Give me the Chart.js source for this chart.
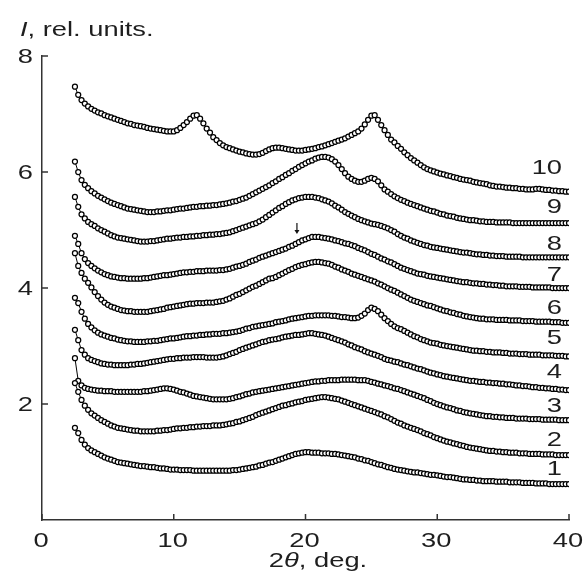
<!DOCTYPE html>
<html>
<head>
<meta charset="utf-8">
<script src="https://cdn.jsdelivr.net/npm/chart.js@4.4.1/dist/chart.umd.min.js"></script>
<style>
  html, body { margin: 0; padding: 0; background: #fff; }
</style>
</head>
<body>
<canvas id="myChart" width="585" height="574"></canvas>
<script>
// 2theta sampling, deg.
const angles = [
  2.5,2.75,3,3.25,3.5,3.75,4,4.25,4.5,4.75,5,5.25,5.5,5.75,6,6.25,6.5,6.75,7,7.25,
  7.5,7.75,8,8.25,8.5,8.75,9,9.25,9.5,9.75,10,10.25,10.5,10.75,11,11.25,11.5,11.75,12,12.25,
  12.5,12.75,13,13.25,13.5,13.75,14,14.25,14.5,14.75,15,15.25,15.5,15.75,16,16.25,16.5,16.75,17,17.25,
  17.5,17.75,18,18.25,18.5,18.75,19,19.25,19.5,19.75,20,20.25,20.5,20.75,21,21.25,21.5,21.75,22,22.25,
  22.5,22.75,23,23.25,23.5,23.75,24,24.25,24.5,24.75,25,25.25,25.5,25.75,26,26.25,26.5,26.75,27,27.25,
  27.5,27.75,28,28.25,28.5,28.75,29,29.25,29.5,29.75,30,30.25,30.5,30.75,31,31.25,31.5,31.75,32,32.25,
  32.5,32.75,33,33.25,33.5,33.75,34,34.25,34.5,34.75,35,35.25,35.5,35.75,36,36.25,36.5,36.75,37,37.25,
  37.5,37.75,38,38.25,38.5,38.75,39,39.25,39.5,39.75,40
];

// intensity, rel. units (curves are shifted vertically as in the figure)
const curve1 = [
  1.59,1.50,1.38,1.30,1.24,1.20,1.17,1.14,1.11,1.08,1.06,1.04,1.02,1.00,0.99,0.98,0.97,0.96,0.95,0.94,
  0.93,0.93,0.92,0.91,0.91,0.90,0.89,0.89,0.88,0.87,0.87,0.87,0.86,0.86,0.86,0.86,0.85,0.85,0.85,0.85,
  0.85,0.85,0.85,0.85,0.85,0.85,0.85,0.85,0.86,0.86,0.87,0.88,0.89,0.90,0.91,0.92,0.94,0.95,0.97,0.99,
  1.00,1.02,1.04,1.06,1.08,1.10,1.12,1.14,1.15,1.16,1.17,1.17,1.16,1.16,1.16,1.15,1.15,1.15,1.14,1.14,
  1.13,1.12,1.11,1.10,1.09,1.08,1.06,1.05,1.03,1.02,1.00,0.98,0.96,0.95,0.93,0.91,0.90,0.88,0.87,0.86,
  0.85,0.84,0.83,0.82,0.82,0.81,0.80,0.79,0.78,0.78,0.77,0.76,0.75,0.74,0.74,0.73,0.72,0.71,0.70,0.70,
  0.69,0.69,0.68,0.68,0.67,0.67,0.67,0.67,0.66,0.66,0.66,0.66,0.65,0.65,0.65,0.65,0.64,0.64,0.64,0.64,
  0.63,0.63,0.63,0.63,0.62,0.62,0.62,0.62,0.62,0.62,0.62
];
const curve2 = [
  2.36,2.21,2.07,1.97,1.90,1.84,1.80,1.76,1.72,1.69,1.66,1.63,1.61,1.59,1.58,1.57,1.56,1.55,1.54,1.54,
  1.53,1.53,1.53,1.53,1.53,1.54,1.54,1.55,1.55,1.56,1.57,1.58,1.58,1.59,1.59,1.60,1.60,1.61,1.61,1.62,
  1.62,1.62,1.63,1.63,1.63,1.64,1.65,1.66,1.67,1.69,1.70,1.72,1.74,1.76,1.78,1.81,1.83,1.85,1.87,1.89,
  1.91,1.93,1.95,1.97,1.98,2.00,2.01,2.03,2.04,2.05,2.07,2.08,2.09,2.10,2.11,2.12,2.12,2.11,2.10,2.09,
  2.08,2.06,2.04,2.02,2.00,1.98,1.96,1.94,1.92,1.90,1.88,1.86,1.84,1.82,1.79,1.77,1.74,1.71,1.68,1.66,
  1.63,1.61,1.59,1.57,1.55,1.53,1.50,1.48,1.46,1.43,1.41,1.39,1.37,1.35,1.34,1.32,1.31,1.29,1.28,1.26,
  1.25,1.24,1.23,1.22,1.21,1.20,1.19,1.19,1.18,1.18,1.17,1.17,1.16,1.16,1.16,1.15,1.15,1.15,1.14,1.14,
  1.14,1.14,1.13,1.13,1.13,1.13,1.12,1.12,1.12,1.12,1.12
];
const curve3 = [
  2.79,2.40,2.32,2.28,2.26,2.25,2.24,2.23,2.23,2.22,2.22,2.22,2.21,2.21,2.21,2.21,2.21,2.21,2.21,2.21,
  2.21,2.22,2.22,2.23,2.24,2.25,2.26,2.27,2.27,2.26,2.25,2.23,2.21,2.20,2.18,2.16,2.14,2.13,2.12,2.11,
  2.10,2.09,2.08,2.08,2.08,2.08,2.08,2.09,2.10,2.12,2.13,2.15,2.17,2.18,2.20,2.21,2.22,2.23,2.24,2.25,
  2.26,2.27,2.28,2.29,2.30,2.31,2.32,2.33,2.34,2.35,2.36,2.37,2.38,2.39,2.39,2.40,2.40,2.41,2.41,2.41,
  2.41,2.42,2.42,2.42,2.42,2.42,2.41,2.41,2.41,2.40,2.38,2.37,2.35,2.34,2.32,2.31,2.29,2.27,2.26,2.24,
  2.22,2.20,2.18,2.16,2.14,2.12,2.10,2.07,2.05,2.02,2.00,1.98,1.96,1.94,1.93,1.91,1.89,1.88,1.86,1.85,
  1.84,1.83,1.82,1.81,1.80,1.79,1.79,1.78,1.78,1.77,1.77,1.76,1.76,1.76,1.75,1.75,1.75,1.75,1.74,1.74,
  1.74,1.74,1.73,1.73,1.73,1.73,1.73,1.72,1.72,1.72,1.72
];
const curve4 = [
  3.28,3.10,2.93,2.85,2.79,2.76,2.74,2.72,2.70,2.69,2.68,2.68,2.67,2.67,2.67,2.67,2.67,2.68,2.68,2.69,
  2.69,2.70,2.71,2.72,2.73,2.74,2.75,2.76,2.77,2.78,2.78,2.79,2.79,2.80,2.80,2.80,2.81,2.81,2.81,2.81,
  2.80,2.80,2.80,2.80,2.81,2.82,2.84,2.86,2.88,2.90,2.93,2.95,2.97,2.99,3.01,3.03,3.05,3.07,3.08,3.10,
  3.11,3.12,3.13,3.15,3.16,3.17,3.18,3.19,3.19,3.20,3.21,3.22,3.22,3.21,3.20,3.19,3.18,3.16,3.14,3.12,
  3.10,3.08,3.06,3.03,3.01,2.98,2.96,2.94,2.91,2.89,2.87,2.85,2.83,2.81,2.78,2.76,2.75,2.73,2.72,2.70,
  2.68,2.67,2.65,2.63,2.61,2.60,2.58,2.56,2.54,2.53,2.51,2.50,2.48,2.47,2.46,2.45,2.44,2.43,2.42,2.41,
  2.40,2.40,2.39,2.38,2.38,2.37,2.37,2.36,2.36,2.35,2.35,2.34,2.34,2.33,2.32,2.32,2.31,2.31,2.30,2.29,
  2.29,2.28,2.28,2.27,2.27,2.26,2.26,2.25,2.25,2.24,2.24
];
const curve5 = [
  3.83,3.74,3.59,3.47,3.38,3.32,3.27,3.23,3.20,3.18,3.16,3.14,3.13,3.11,3.10,3.09,3.08,3.08,3.07,3.07,
  3.07,3.07,3.08,3.08,3.09,3.09,3.10,3.11,3.12,3.13,3.13,3.14,3.15,3.16,3.17,3.17,3.18,3.18,3.19,3.19,
  3.20,3.20,3.21,3.21,3.21,3.22,3.22,3.23,3.24,3.25,3.26,3.28,3.30,3.31,3.33,3.34,3.35,3.36,3.37,3.38,
  3.39,3.41,3.42,3.43,3.44,3.46,3.47,3.48,3.49,3.50,3.51,3.52,3.52,3.53,3.53,3.53,3.53,3.53,3.52,3.52,
  3.51,3.50,3.50,3.49,3.48,3.48,3.49,3.52,3.56,3.62,3.66,3.64,3.60,3.54,3.48,3.43,3.38,3.34,3.31,3.29,
  3.26,3.23,3.20,3.17,3.15,3.12,3.10,3.08,3.06,3.05,3.04,3.02,3.01,3.00,2.99,2.98,2.97,2.96,2.95,2.94,
  2.93,2.92,2.92,2.91,2.91,2.90,2.90,2.89,2.89,2.89,2.88,2.88,2.87,2.87,2.87,2.86,2.86,2.86,2.85,2.85,
  2.85,2.85,2.84,2.84,2.84,2.84,2.83,2.83,2.83,2.82,2.82
];
const curve6 = [
  4.60,4.38,4.26,4.16,4.09,4.01,3.93,3.86,3.80,3.75,3.71,3.68,3.66,3.64,3.62,3.61,3.60,3.60,3.59,3.59,
  3.59,3.59,3.59,3.60,3.61,3.62,3.63,3.64,3.66,3.67,3.68,3.69,3.70,3.71,3.72,3.73,3.73,3.74,3.74,3.74,
  3.75,3.75,3.75,3.76,3.77,3.78,3.80,3.82,3.85,3.88,3.90,3.93,3.96,3.99,4.02,4.04,4.07,4.10,4.13,4.16,
  4.17,4.19,4.22,4.25,4.28,4.31,4.33,4.36,4.38,4.40,4.41,4.43,4.44,4.45,4.45,4.44,4.43,4.42,4.40,4.37,
  4.35,4.32,4.30,4.28,4.25,4.23,4.21,4.19,4.17,4.15,4.13,4.11,4.08,4.06,4.03,4.00,3.97,3.95,3.92,3.89,
  3.86,3.83,3.80,3.78,3.76,3.74,3.72,3.70,3.69,3.67,3.65,3.63,3.61,3.60,3.58,3.57,3.55,3.54,3.52,3.51,
  3.50,3.49,3.48,3.47,3.47,3.46,3.46,3.46,3.45,3.45,3.45,3.45,3.44,3.44,3.44,3.44,3.43,3.43,3.43,3.43,
  3.42,3.42,3.42,3.42,3.42,3.41,3.41,3.41,3.40,3.40,3.40
];
const curve7 = [
  4.90,4.76,4.60,4.50,4.43,4.38,4.34,4.30,4.27,4.24,4.22,4.20,4.19,4.18,4.17,4.17,4.16,4.16,4.16,4.16,
  4.16,4.17,4.17,4.18,4.19,4.20,4.21,4.22,4.22,4.23,4.24,4.25,4.26,4.27,4.27,4.28,4.28,4.29,4.29,4.29,
  4.30,4.30,4.30,4.30,4.31,4.31,4.32,4.33,4.35,4.37,4.38,4.40,4.42,4.45,4.47,4.49,4.52,4.54,4.56,4.58,
  4.60,4.62,4.64,4.66,4.68,4.71,4.73,4.76,4.79,4.82,4.84,4.86,4.88,4.88,4.88,4.87,4.86,4.85,4.84,4.82,
  4.81,4.79,4.77,4.76,4.74,4.72,4.69,4.67,4.65,4.62,4.59,4.57,4.54,4.51,4.49,4.46,4.44,4.41,4.38,4.35,
  4.33,4.31,4.29,4.27,4.25,4.24,4.23,4.21,4.20,4.19,4.18,4.17,4.16,4.15,4.14,4.13,4.12,4.11,4.10,4.10,
  4.09,4.08,4.08,4.07,4.07,4.06,4.06,4.05,4.05,4.04,4.04,4.03,4.03,4.03,4.03,4.02,4.02,4.02,4.02,4.01,
  4.01,4.01,4.01,4.01,4.01,4.00,4.00,4.00,4.00,4.00,4.00
];
const curve8 = [
  5.57,5.40,5.27,5.20,5.14,5.10,5.07,5.03,5.00,4.97,4.94,4.91,4.89,4.87,4.86,4.85,4.84,4.83,4.82,4.81,
  4.80,4.80,4.80,4.81,4.81,4.82,4.83,4.84,4.85,4.85,4.86,4.87,4.87,4.88,4.88,4.89,4.89,4.90,4.90,4.91,
  4.91,4.92,4.92,4.93,4.93,4.94,4.95,4.96,4.98,5.00,5.02,5.04,5.06,5.08,5.10,5.12,5.15,5.18,5.22,5.26,
  5.30,5.34,5.38,5.41,5.45,5.48,5.51,5.53,5.55,5.56,5.57,5.57,5.57,5.56,5.55,5.53,5.51,5.49,5.46,5.42,
  5.39,5.35,5.31,5.28,5.25,5.22,5.19,5.17,5.15,5.13,5.11,5.10,5.09,5.07,5.05,5.03,5.00,4.97,4.93,4.90,
  4.87,4.85,4.82,4.80,4.78,4.76,4.74,4.73,4.71,4.70,4.69,4.68,4.67,4.66,4.65,4.64,4.63,4.62,4.61,4.61,
  4.60,4.59,4.58,4.58,4.57,4.57,4.56,4.56,4.55,4.55,4.55,4.54,4.54,4.54,4.54,4.54,4.53,4.53,4.53,4.53,
  4.53,4.53,4.53,4.53,4.53,4.53,4.53,4.53,4.53,4.53,4.53
];
const curve9 = [
  6.18,6.00,5.86,5.78,5.72,5.67,5.63,5.59,5.56,5.53,5.50,5.47,5.45,5.43,5.41,5.39,5.37,5.36,5.35,5.34,
  5.33,5.32,5.31,5.31,5.31,5.32,5.32,5.33,5.34,5.34,5.35,5.36,5.37,5.37,5.38,5.39,5.40,5.40,5.41,5.41,
  5.42,5.42,5.43,5.43,5.44,5.45,5.46,5.47,5.49,5.50,5.52,5.54,5.56,5.59,5.62,5.65,5.68,5.71,5.74,5.77,
  5.81,5.84,5.88,5.91,5.95,5.98,6.02,6.05,6.09,6.12,6.15,6.18,6.20,6.23,6.25,6.26,6.26,6.25,6.22,6.18,
  6.12,6.05,5.98,5.92,5.88,5.85,5.83,5.83,5.85,5.88,5.90,5.88,5.84,5.77,5.70,5.66,5.62,5.58,5.55,5.52,
  5.50,5.47,5.45,5.43,5.41,5.39,5.37,5.35,5.33,5.32,5.30,5.28,5.27,5.25,5.24,5.23,5.21,5.20,5.19,5.18,
  5.17,5.17,5.16,5.15,5.15,5.14,5.14,5.14,5.13,5.13,5.13,5.13,5.13,5.12,5.12,5.12,5.12,5.12,5.12,5.12,
  5.12,5.12,5.12,5.12,5.12,5.12,5.12,5.12,5.12,5.12,5.12
];
const curve10 = [
  7.47,7.33,7.24,7.18,7.13,7.09,7.06,7.03,7.01,6.98,6.96,6.94,6.92,6.90,6.88,6.86,6.84,6.83,6.81,6.80,
  6.79,6.78,6.76,6.75,6.74,6.73,6.72,6.71,6.70,6.70,6.70,6.72,6.76,6.81,6.86,6.92,6.97,6.98,6.92,6.84,
  6.75,6.68,6.60,6.55,6.50,6.46,6.43,6.41,6.39,6.37,6.35,6.34,6.32,6.31,6.30,6.30,6.31,6.33,6.36,6.39,
  6.41,6.42,6.42,6.41,6.40,6.39,6.38,6.37,6.37,6.37,6.38,6.39,6.40,6.41,6.43,6.44,6.46,6.48,6.50,6.52,
  6.54,6.56,6.58,6.61,6.64,6.67,6.70,6.75,6.82,6.90,6.97,6.98,6.90,6.81,6.72,6.64,6.56,6.51,6.45,6.40,
  6.34,6.29,6.24,6.20,6.16,6.12,6.08,6.05,6.03,6.01,5.99,5.97,5.96,5.94,5.93,5.91,5.90,5.88,5.87,5.86,
  5.85,5.83,5.82,5.81,5.80,5.79,5.77,5.76,5.75,5.75,5.74,5.73,5.73,5.72,5.72,5.71,5.71,5.70,5.70,5.70,
  5.71,5.71,5.70,5.69,5.69,5.68,5.68,5.67,5.67,5.66,5.66
];

const curves = [curve1, curve2, curve3, curve4, curve5, curve6, curve7, curve8, curve9, curve10];
const curveNames = ['1', '2', '3', '4', '5', '6', '7', '8', '9', '10'];
const xTickLabels = ['0', '10', '20', '30', '40'];
const yTickLabels = ['2', '4', '6', '8'];

const ink = '#1e1e1e';
const fontFamily = "'Liberation Sans', Arial, sans-serif";
const fontSize = 21;
const stretchX = 1.3;   // lettering in the figure is wide
// how far each curve number sits above the curve end (value units)
const nameLift = [0.28, 0.29, 0.28, 0.34, 0.35, 0.28, 0.25, 0.26, 0.31, 0.43];

// draws a row of [text, italic] pieces, stretched horizontally
function wideText(ctx, parts, x, y, align) {
    ctx.save();
    ctx.translate(x, y);
    ctx.scale(stretchX, 1);
    let total = 0;
    parts.forEach(p => {
        ctx.font = (p[1] ? 'italic ' : '') + fontSize + 'px ' + fontFamily;
        total += ctx.measureText(p[0]).width;
    });
    let pos = align === 'right' ? -total : (align === 'center' ? -total / 2 : 0);
    ctx.fillStyle = ink;
    ctx.textBaseline = 'alphabetic';
    ctx.textAlign = 'left';
    parts.forEach(p => {
        ctx.font = (p[1] ? 'italic ' : '') + fontSize + 'px ' + fontFamily;
        ctx.fillText(p[0], pos, 0);
        pos += ctx.measureText(p[0]).width;
    });
    ctx.restore();
}

const decorations = {
    id: 'decorations',
    afterDraw(chart) {
        const ctx = chart.ctx;
        const xs = chart.scales.x, ys = chart.scales.y;
        const area = chart.chartArea;

        // inward tick marks
        ctx.save();
        ctx.strokeStyle = '#333';
        ctx.lineWidth = 1.5;
        ctx.beginPath();
        xTickLabels.forEach(t => {
            const px = xs.getPixelForValue(Number(t));
            ctx.moveTo(px, area.bottom);
            ctx.lineTo(px, area.bottom - 6);
        });
        yTickLabels.forEach(t => {
            const py = ys.getPixelForValue(Number(t));
            ctx.moveTo(area.left, py);
            ctx.lineTo(area.left + 6, py);
        });
        ctx.stroke();
        ctx.restore();

        // tick labels
        xTickLabels.forEach(t => {
            wideText(ctx, [[t, false]], xs.getPixelForValue(Number(t)) - 1, area.bottom + 27, 'center');
        });
        yTickLabels.forEach(t => {
            wideText(ctx, [[t, false]], area.left - 9, ys.getPixelForValue(Number(t)) + 7, 'right');
        });

        // axis titles
        wideText(ctx, [['I', true], [', rel. units.', false]], 20, 36, 'left');
        wideText(ctx, [['2', false], ['\u03b8', true], [', deg.', false]], 318, 567, 'center');

        // curve numbers at the right end
        curves.forEach((c, i) => {
            const py = ys.getPixelForValue(c[c.length - 1] + nameLift[i]);
            wideText(ctx, [[curveNames[i], false]], 562, py + 7.5, 'right');
        });

        // small arrow over curve 7
        const ax = xs.getPixelForValue(19.35);
        const ay1 = ys.getPixelForValue(5.12), ay2 = ys.getPixelForValue(4.93);
        ctx.save();
        ctx.strokeStyle = '#111';
        ctx.fillStyle = '#111';
        ctx.lineWidth = 1.2;
        ctx.beginPath();
        ctx.moveTo(ax, ay1);
        ctx.lineTo(ax, ay2 - 3);
        ctx.stroke();
        ctx.beginPath();
        ctx.moveTo(ax - 2.5, ay2 - 4);
        ctx.lineTo(ax + 2.5, ay2 - 4);
        ctx.lineTo(ax, ay2);
        ctx.closePath();
        ctx.fill();
        ctx.restore();
    }
};

function loadChart() {
    const ctx = document.getElementById('myChart');

    new Chart(ctx, {
        type: 'line',
        data: {
            datasets: curves.map((c, i) => ({
                label: curveNames[i],
                data: c.map((v, k) => ({ x: angles[k], y: v })),
                showLine: true,
                borderColor: '#000',
                borderWidth: 1,
                pointRadius: 2.5,
                pointBorderWidth: 1.25,
                pointBorderColor: '#000',
                pointBackgroundColor: '#fff',
                tension: 0
            }))
        },
        options: {
            responsive: false,
            devicePixelRatio: 1,
            animation: false,
            events: [],
            layout: {
                padding: { top: 56, right: 16, left: 0, bottom: 0 }
            },
            plugins: {
                legend: { display: false },
                tooltip: { enabled: false }
            },
            scales: {
                x: {
                    type: 'linear',
                    min: 0,
                    max: 40,
                    ticks: { stepSize: 10, display: false },
                    grid: { display: false, drawTicks: false },
                    border: { display: true, color: '#333', width: 1.5 },
                    afterFit: s => { s.height = 54; }
                },
                y: {
                    min: 0,
                    max: 8,
                    ticks: { stepSize: 2, display: false },
                    grid: { display: false, drawTicks: false },
                    border: { display: true, color: '#333', width: 1.5 },
                    afterFit: s => { s.width = 42; }
                }
            }
        },
        plugins: [decorations]
    });
}

loadChart();
</script>
</body>
</html>
